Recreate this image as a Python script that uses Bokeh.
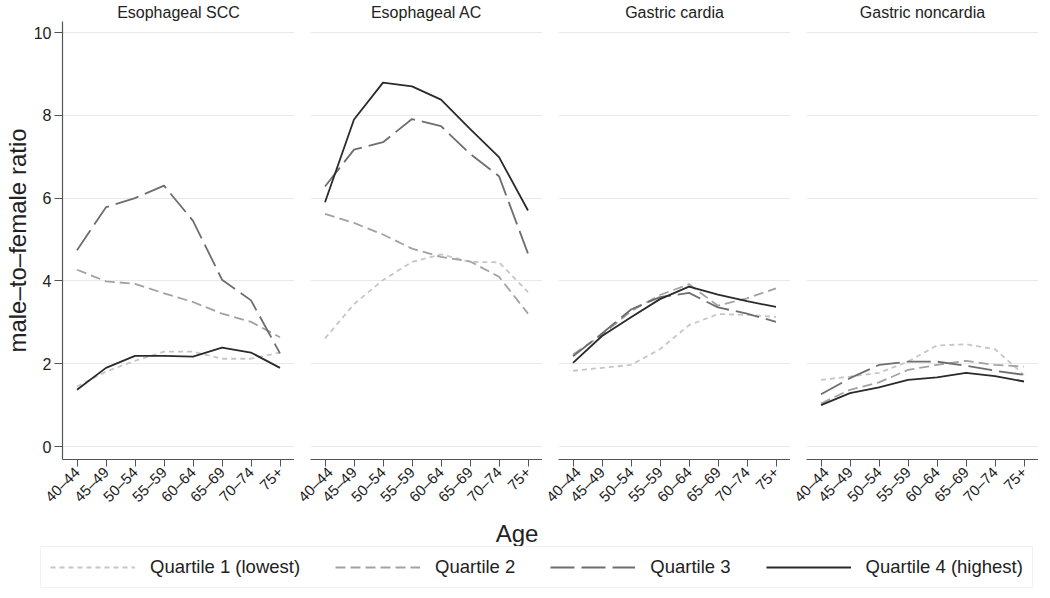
import math
from bokeh.plotting import figure
from bokeh.models import FixedTicker, Legend, LegendItem, Label, Range1d, FactorRange
from bokeh.layouts import column, row
from bokeh.embed import file_html
from bokeh.resources import INLINE

# ---------------- data ----------------
ages = ["40–44", "45–49", "50–54", "55–59", "60–64", "65–69", "70–74", "75+"]
panel_titles = ["Esophageal SCC", "Esophageal AC", "Gastric cardia", "Gastric noncardia"]
quartile_names = ["Quartile 1 (lowest)", "Quartile 2", "Quartile 3", "Quartile 4 (highest)"]
y_ticks = [0, 2, 4, 6, 8, 10]

scc_q1 = [1.45, 1.81, 2.07, 2.29, 2.29, 2.12, 2.12, 2.27]
scc_q2 = [4.27, 3.99, 3.93, 3.70, 3.49, 3.21, 3.01, 2.64]
scc_q3 = [4.74, 5.78, 6.00, 6.30, 5.45, 4.03, 3.53, 2.25]
scc_q4 = [1.37, 1.90, 2.19, 2.19, 2.17, 2.39, 2.27, 1.90]

eac_q1 = [2.61, 3.44, 4.02, 4.46, 4.64, 4.46, 4.45, 3.73]
eac_q2 = [5.62, 5.40, 5.12, 4.78, 4.58, 4.47, 4.10, 3.21]
eac_q3 = [6.28, 7.17, 7.35, 7.91, 7.74, 7.07, 6.53, 4.66]
eac_q4 = [5.90, 7.90, 8.79, 8.70, 8.38, 7.67, 6.99, 5.70]

gc_q1 = [1.83, 1.90, 1.97, 2.35, 2.93, 3.20, 3.18, 3.13]
gc_q2 = [2.22, 2.70, 3.27, 3.66, 3.92, 3.40, 3.58, 3.82]
gc_q3 = [2.18, 2.73, 3.31, 3.61, 3.71, 3.36, 3.21, 3.01]
gc_q4 = [2.02, 2.67, 3.12, 3.56, 3.86, 3.67, 3.51, 3.37]

gnc_q1 = [1.61, 1.69, 1.78, 2.05, 2.44, 2.47, 2.35, 1.73]
gnc_q2 = [1.04, 1.37, 1.55, 1.85, 1.97, 2.07, 1.97, 1.93]
gnc_q3 = [1.26, 1.65, 1.97, 2.05, 2.05, 1.95, 1.83, 1.73]
gnc_q4 = [1.00, 1.29, 1.43, 1.61, 1.67, 1.78, 1.70, 1.57]

panel_data = [
    [scc_q1, scc_q2, scc_q3, scc_q4],
    [eac_q1, eac_q2, eac_q3, eac_q4],
    [gc_q1, gc_q2, gc_q3, gc_q4],
    [gnc_q1, gnc_q2, gnc_q3, gnc_q4],
]

# ---------------- styles ----------------
line_colors = ["#c6c6c6", "#a2a2a2", "#6e6e6e", "#2a2a2a"]
line_dashes = ["5 4", "10 5", "24 7", "solid"]
line_widths = [1.8, 1.8, 1.8, 1.8]
FONT = "Liberation Sans"
TXT = "#222222"
AX = "#555555"

LEFT = 57
GAP = 16
FW = 232
TOP = 21
FH = 438
BOTTOM = 52

figs = []
for i, title in enumerate(panel_titles):
    first = i == 0
    p = figure(
        frame_width=FW,
        frame_height=FH,
        x_range=FactorRange(*ages),
        y_range=Range1d(-0.314, 10.266),
        title=title,
        toolbar_location=None,
        output_backend="svg",
        y_axis_location="left" if first else None,
        min_border_left=LEFT if first else GAP,
        min_border_right=0,
        min_border_top=TOP,
        min_border_bottom=BOTTOM,
    )
    p.title.text_font = FONT
    p.title.text_font_size = "16px"
    p.title.text_font_style = "normal"
    p.title.text_color = TXT
    p.title.align = "center"
    p.title.standoff = 2
    p.outline_line_color = None
    p.background_fill_color = "white"
    p.border_fill_color = "white"

    p.xgrid.grid_line_color = None
    p.ygrid.ticker = FixedTicker(ticks=y_ticks)
    p.ygrid.grid_line_color = "#e9e9e9"
    p.ygrid.grid_line_width = 1.2

    xa = p.xaxis[0]
    xa.major_label_orientation = math.pi / 4
    xa.major_label_text_font = FONT
    xa.major_label_text_font_size = "15px"
    xa.major_label_text_color = TXT
    xa.axis_line_color = AX
    xa.axis_line_width = 1.2
    xa.major_tick_line_color = AX
    xa.major_tick_out = 7
    xa.major_tick_in = 0
    xa.major_label_standoff = 3

    if first:
        ya = p.yaxis[0]
        ya.ticker = FixedTicker(ticks=y_ticks)
        ya.minor_tick_line_color = None
        ya.axis_label = "male–to–female ratio"
        ya.axis_label_text_font = FONT
        ya.axis_label_text_font_size = "24px"
        ya.axis_label_text_font_style = "normal"
        ya.axis_label_text_color = TXT
        ya.axis_label_standoff = 0
        ya.major_label_text_font = FONT
        ya.major_label_text_font_size = "16px"
        ya.major_label_text_color = TXT
        ya.major_label_standoff = 3
        ya.axis_line_color = AX
        ya.axis_line_width = 1.2
        ya.major_tick_line_color = AX
        ya.major_tick_out = 8
        ya.major_tick_in = 0

    for k, vals in enumerate(panel_data[i]):
        p.line(ages, vals, line_color=line_colors[k], line_dash=line_dashes[k],
               line_width=line_widths[k])
    figs.append(p)

total_w = LEFT + GAP * 3 + FW * 4
leg_h = 74
lf = figure(frame_width=total_w, frame_height=leg_h, x_range=Range1d(0, 1), y_range=Range1d(0, 1),
            toolbar_location=None, output_backend="svg",
            x_axis_location=None, y_axis_location=None,
            min_border_left=0, min_border_right=0, min_border_top=0, min_border_bottom=0)
lf.outline_line_color = None
lf.xgrid.grid_line_color = None
lf.ygrid.grid_line_color = None
lf.add_layout(Label(x=0.5, y=0.75, text="Age", text_font=FONT, text_font_size="24px",
                    text_color=TXT, text_align="center", text_baseline="middle"))

items = []
for k, name in enumerate(quartile_names):
    # sample lines kept outside the visible range; only their legend glyphs show
    r = lf.line([-10, -9], [-10, -9], line_color=line_colors[k], line_dash=line_dashes[k],
                line_width=line_widths[k])
    items.append(LegendItem(label=name, renderers=[r]))
leg = Legend(items=items, orientation="horizontal", location=(40, 0),
             glyph_width=85, label_standoff=15, spacing=35, padding=9, margin=0,
             label_text_font=FONT, label_text_font_size="18.5px", label_text_color=TXT,
             border_line_color="#e2e6e6", border_line_width=1,
             background_fill_color="white")
lf.add_layout(leg, "center")

layout = column(row(*figs), lf)
open("out.html", "w").write(file_html(layout, INLINE))
